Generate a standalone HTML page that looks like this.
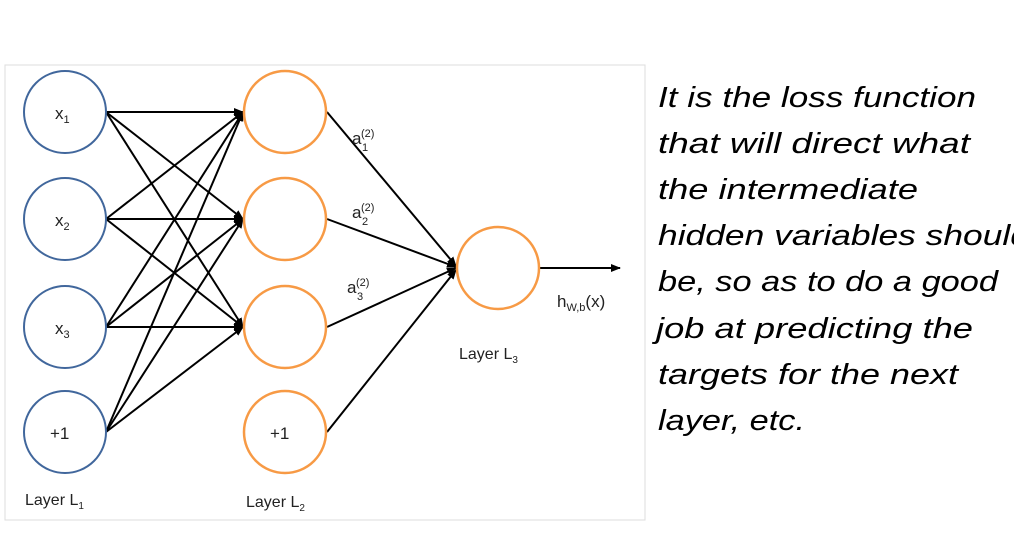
<!DOCTYPE html>
<html><head><meta charset="utf-8"><style>
html,body{margin:0;padding:0;background:#fff;overflow:hidden}
svg{display:block}
</style></head><body>
<svg width="1014" height="534" viewBox="0 0 1014 534" xmlns="http://www.w3.org/2000/svg" font-family="Liberation Sans, sans-serif">
<defs>
<marker id="ah" markerWidth="10" markerHeight="8" refX="9" refY="4" orient="auto" markerUnits="userSpaceOnUse">
<path d="M0,0 L10,4 L0,8 z" fill="#000"/>
</marker>
</defs>
<rect x="5" y="65" width="640" height="455" fill="#fff" stroke="#ddd" stroke-width="1"/>
<g stroke="#000" stroke-width="2" fill="none" marker-end="url(#ah)">
<!-- L1 -> L2 -->
<line x1="106" y1="112" x2="243" y2="112"/>
<line x1="106" y1="112" x2="243" y2="219"/>
<line x1="106" y1="112" x2="243" y2="327"/>
<line x1="106" y1="219" x2="243" y2="112"/>
<line x1="106" y1="219" x2="243" y2="219"/>
<line x1="106" y1="219" x2="243" y2="327"/>
<line x1="106" y1="327" x2="243" y2="112"/>
<line x1="106" y1="327" x2="243" y2="219"/>
<line x1="106" y1="327" x2="243" y2="327"/>
<line x1="106" y1="432" x2="243" y2="112"/>
<line x1="106" y1="432" x2="243" y2="219"/>
<line x1="106" y1="432" x2="243" y2="327"/>
<!-- L2 -> L3 -->
<line x1="327" y1="112" x2="456" y2="266"/>
<line x1="327" y1="219" x2="456" y2="267"/>
<line x1="327" y1="327" x2="456" y2="268"/>
<line x1="327" y1="432" x2="456" y2="270"/>
<line x1="540" y1="268" x2="620" y2="268"/>
</g>
<g fill="#fff" stroke="#41679c" stroke-width="2">
<circle cx="65" cy="112" r="41"/><circle cx="65" cy="219" r="41"/>
<circle cx="65" cy="327" r="41"/><circle cx="65" cy="432" r="41"/>
</g>
<g fill="#fff" stroke="#f79a45" stroke-width="2.5">
<circle cx="285" cy="112" r="41"/><circle cx="285" cy="219" r="41"/>
<circle cx="285" cy="327" r="41"/><circle cx="285" cy="432" r="41"/>
<circle cx="498" cy="268" r="41"/>
</g>
<g fill="#222" font-size="17">
<text x="55" y="119">x<tspan font-size="11" dy="4">1</tspan></text>
<text x="55" y="226">x<tspan font-size="11" dy="4">2</tspan></text>
<text x="55" y="334">x<tspan font-size="11" dy="4">3</tspan></text>
<text x="50" y="439">+1</text>
<text x="270" y="439">+1</text>
<text x="352" y="144">a</text><text x="361" y="137" font-size="11">(2)</text><text x="362" y="151" font-size="11">1</text>
<text x="352" y="218">a</text><text x="361" y="211" font-size="11">(2)</text><text x="362" y="225" font-size="11">2</text>
<text x="347" y="293">a</text><text x="356" y="286" font-size="11">(2)</text><text x="357" y="300" font-size="11">3</text>
<text x="557" y="307">h<tspan font-size="11" dy="4">W,b</tspan><tspan dy="-4">(x)</tspan></text>
<text x="459" y="359" font-size="16">Layer L<tspan font-size="10" dy="4">3</tspan></text>
<text x="25" y="505" font-size="16">Layer L<tspan font-size="10" dy="4">1</tspan></text>
<text x="246" y="507" font-size="16">Layer L<tspan font-size="10" dy="4">2</tspan></text>
</g>
<g font-size="29" font-style="italic" fill="#000">
<text x="658" y="107" textLength="318" lengthAdjust="spacingAndGlyphs">It is the loss function</text>
<text x="658" y="153" textLength="312" lengthAdjust="spacingAndGlyphs">that will direct what</text>
<text x="658" y="199" textLength="260" lengthAdjust="spacingAndGlyphs">the intermediate</text>
<text x="658" y="245" textLength="372" lengthAdjust="spacingAndGlyphs">hidden variables should</text>
<text x="658" y="291" textLength="340" lengthAdjust="spacingAndGlyphs">be, so as to do a good</text>
<text x="656" y="338" textLength="317" lengthAdjust="spacingAndGlyphs">job at predicting the</text>
<text x="658" y="384" textLength="300" lengthAdjust="spacingAndGlyphs">targets for the next</text>
<text x="658" y="430" textLength="147" lengthAdjust="spacingAndGlyphs">layer, etc.</text>
</g>
</svg>
</body></html>
